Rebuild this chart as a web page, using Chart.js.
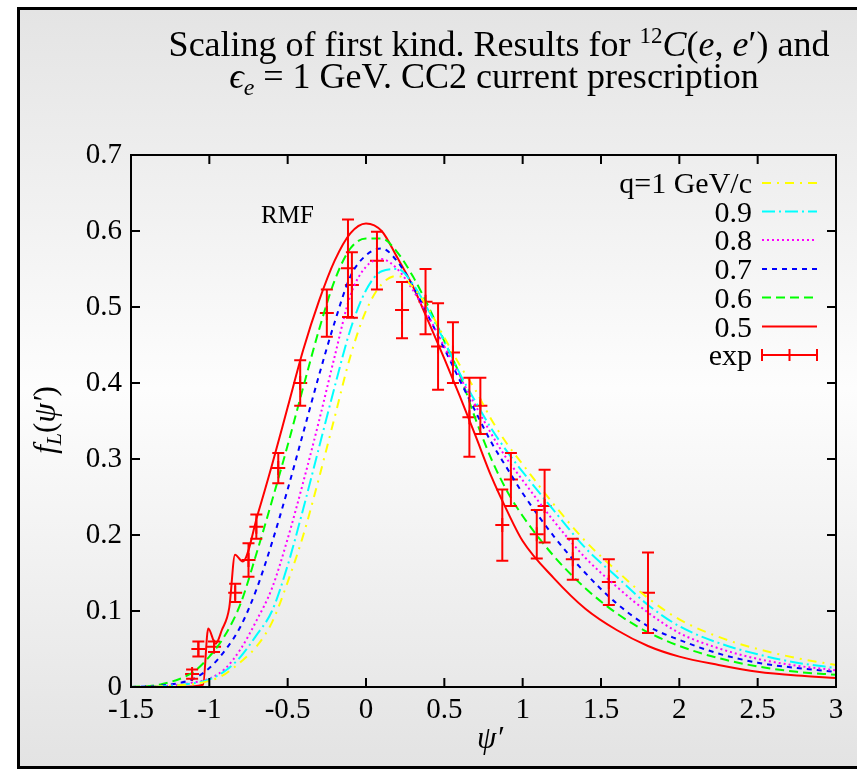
<!DOCTYPE html>
<html>
<head>
<meta charset="utf-8">
<script src="https://cdn.jsdelivr.net/npm/chart.js@4.4.1/dist/chart.umd.min.js"></script>
<style>
  html, body { margin: 0; padding: 0; background: #fff; }
  #frame {
    position: absolute; left: 17px; top: 7px; width: 900px; height: 756px;
    border: 3px solid #000;
    background: linear-gradient(to bottom, #e4e4e4 0%, #fdfdfd 50%, #e3e3e3 100%);
  }
  #wrap { position: absolute; left: 0; top: 0; width: 857px; height: 769px; }
</style>
</head>
<body>
<div id="frame"></div>
<div id="wrap"><canvas id="chart" width="857" height="769"></canvas></div>
<script>
// psi' grid shared by the q = 0.6 ... 1.0 GeV/c curves
const psi = [-1.5, -1.3, -1.1, -1.0, -0.9, -0.8, -0.7, -0.6, -0.5, -0.4, -0.3, -0.2, -0.1, 0, 0.1, 0.2, 0.3,
             0.4, 0.5, 0.6, 0.7, 0.8, 0.9, 1.0, 1.2, 1.4, 1.6, 1.8, 2.0, 2.25, 2.5, 2.75, 3.0];

const q10 = [0, 0.001, 0.004, 0.008, 0.017, 0.033, 0.053, 0.085, 0.138, 0.2, 0.275, 0.355, 0.435, 0.495, 0.53, 0.541, 0.526,
             0.497, 0.46, 0.423, 0.39, 0.352, 0.32, 0.293, 0.24, 0.192, 0.153, 0.117, 0.089, 0.066, 0.05, 0.038, 0.029];
const q09 = [0, 0.001, 0.005, 0.01, 0.021, 0.04, 0.068, 0.1, 0.16, 0.235, 0.315, 0.395, 0.47, 0.522, 0.547, 0.55, 0.53,
             0.495, 0.455, 0.412, 0.375, 0.34, 0.31, 0.283, 0.232, 0.183, 0.145, 0.108, 0.08, 0.058, 0.043, 0.032, 0.025];
const q08 = [0, 0.001, 0.006, 0.011, 0.024, 0.05, 0.087, 0.13, 0.195, 0.27, 0.35, 0.435, 0.515, 0.553, 0.563, 0.55, 0.522,
             0.487, 0.448, 0.408, 0.37, 0.333, 0.3, 0.272, 0.218, 0.17, 0.132, 0.098, 0.071, 0.051, 0.037, 0.028, 0.022];
const q07 = [0, 0.002, 0.011, 0.025, 0.048, 0.08, 0.128, 0.19, 0.26, 0.335, 0.41, 0.48, 0.54, 0.568, 0.577, 0.56, 0.527,
             0.487, 0.445, 0.403, 0.362, 0.322, 0.288, 0.255, 0.198, 0.15, 0.11, 0.08, 0.062, 0.044, 0.032, 0.025, 0.02];
const q06 = [0, 0.004, 0.02, 0.04, 0.068, 0.11, 0.175, 0.245, 0.318, 0.395, 0.47, 0.535, 0.577, 0.59, 0.59, 0.572, 0.54,
             0.5, 0.455, 0.41, 0.352, 0.3, 0.258, 0.225, 0.172, 0.13, 0.097, 0.072, 0.054, 0.038, 0.027, 0.02, 0.016];

// q = 0.5 GeV/c has its own sampling (jagged low-psi edge)
const psi05 = [-1.5, -1.2, -1.04, -1.007, -0.96, -0.92, -0.873, -0.836, -0.787, -0.69, -0.6, -0.5, -0.4, -0.3, -0.2, -0.1, 0,
               0.1, 0.2, 0.3, 0.4, 0.5, 0.6, 0.7, 0.8, 0.9, 1.0, 1.2, 1.4, 1.6, 1.8, 2.0, 2.25, 2.5, 2.75, 3.0];
const q05 = [0, 0, 0.003, 0.077, 0.057, 0.075, 0.104, 0.174, 0.165, 0.228, 0.292, 0.368, 0.444, 0.508, 0.561, 0.597, 0.61,
             0.6, 0.565, 0.527, 0.48, 0.432, 0.382, 0.33, 0.277, 0.232, 0.192, 0.143, 0.103, 0.075, 0.054, 0.04, 0.029, 0.02, 0.015, 0.012];

// experimental points
const expPsi = [-1.11, -1.07, -0.97, -0.835, -0.75, -0.70, -0.56, -0.42, -0.25, -0.115, -0.09, 0.07, 0.23, 0.38, 0.46,
                0.555, 0.66, 0.73, 0.87, 0.925, 1.09, 1.14, 1.32, 1.55, 1.80];
const expF = [0.017, 0.05, 0.053, 0.124, 0.167, 0.211, 0.288, 0.40, 0.492, 0.551, 0.529, 0.561, 0.496, 0.507, 0.448,
              0.44, 0.355, 0.37, 0.213, 0.273, 0.201, 0.238, 0.168, 0.138, 0.124];
const expErr = [0.006, 0.01, 0.007, 0.012, 0.022, 0.016, 0.02, 0.03, 0.031, 0.064, 0.043, 0.038, 0.037, 0.043, 0.057,
                0.04, 0.052, 0.037, 0.047, 0.035, 0.032, 0.048, 0.027, 0.03, 0.053];

const legendLabels = ['q=1 GeV/c', '0.9', '0.8', '0.7', '0.6', '0.5', 'exp'];

const serif = '"Liberation Serif", "DejaVu Serif", serif';
const R = s => s + 'px ' + serif;
const I = s => 'italic ' + s + 'px ' + serif;
const red = '#ff0000';

const pts = (xs, ys) => xs.map((v, i) => ({ x: v, y: ys[i] }));

function curve(label, xs, ys, color, dash) {
    return {
        label: label,
        data: pts(xs, ys),
        borderColor: color,
        borderWidth: 2,
        borderDash: dash,
        pointRadius: 0,
        fill: false,
        cubicInterpolationMode: 'monotone'
    };
}

// draw a list of text runs (mixed roman / italic / sub / sup)
function drawRuns(ctx, runs, x, y, align) {
    let w = 0;
    runs.forEach(r => { ctx.font = r.font; w += ctx.measureText(r.text).width; });
    let cx = align === 'center' ? x - w / 2 : align === 'right' ? x - w : x;
    ctx.textAlign = 'left';
    ctx.textBaseline = 'alphabetic';
    runs.forEach(r => {
        ctx.font = r.font;
        ctx.fillText(r.text, cx, y + (r.dy || 0));
        cx += ctx.measureText(r.text).width;
    });
}

// box round the plot with inward ticks on all four sides
const frame = {
    id: 'frame',
    afterDraw(chart) {
        const { ctx, chartArea: a, scales: { x, y } } = chart;
        ctx.save();
        ctx.strokeStyle = '#000';
        ctx.lineWidth = 2;
        ctx.strokeRect(a.left, a.top, a.right - a.left, a.bottom - a.top);
        ctx.beginPath();
        const tl = 9;
        x.ticks.forEach(t => {
            const px = x.getPixelForValue(t.value);
            ctx.moveTo(px, a.bottom); ctx.lineTo(px, a.bottom - tl);
            ctx.moveTo(px, a.top); ctx.lineTo(px, a.top + tl);
        });
        y.ticks.forEach(t => {
            const py = y.getPixelForValue(t.value);
            ctx.moveTo(a.left, py); ctx.lineTo(a.left + tl, py);
            ctx.moveTo(a.right, py); ctx.lineTo(a.right - tl, py);
        });
        ctx.stroke();
        ctx.restore();
    }
};

const errorBars = {
    id: 'errorBars',
    afterDatasetsDraw(chart) {
        const { ctx, scales: { x, y } } = chart;
        ctx.save();
        ctx.strokeStyle = red;
        ctx.lineWidth = 2;
        ctx.beginPath();
        expPsi.forEach((p, i) => {
            const px = x.getPixelForValue(p);
            const lo = y.getPixelForValue(expF[i] - expErr[i]);
            const hi = y.getPixelForValue(expF[i] + expErr[i]);
            ctx.moveTo(px, lo); ctx.lineTo(px, hi);
            ctx.moveTo(px - 6, lo); ctx.lineTo(px + 6, lo);
            ctx.moveTo(px - 6, hi); ctx.lineTo(px + 6, hi);
        });
        ctx.stroke();
        ctx.restore();
    }
};

const texts = {
    id: 'texts',
    afterDraw(chart) {
        const { ctx, scales: { x, y } } = chart;
        ctx.save();
        ctx.fillStyle = '#000';

        // title
        drawRuns(ctx, [
            { text: 'Scaling of first kind. Results for ', font: R(36) },
            { text: '12', font: R(23), dy: -13 },
            { text: 'C', font: I(36) },
            { text: '(', font: R(36) },
            { text: 'e', font: I(36) },
            { text: ', ', font: R(36) },
            { text: 'e', font: I(36) },
            { text: '\u2032', font: R(36) },
            { text: ') and', font: R(36) }
        ], 499, 56, 'center');
        drawRuns(ctx, [
            { text: '\u03f5', font: I(36) },
            { text: 'e', font: I(24), dy: 7 },
            { text: ' = 1 GeV. CC2 current prescription', font: R(36) }
        ], 494, 88, 'center');

        // axis titles
        drawRuns(ctx, [{ text: '\u03c8\u2032', font: I(31) }], 490, 748, 'center');
        ctx.save();
        ctx.translate(55, 420);
        ctx.rotate(-Math.PI / 2);
        drawRuns(ctx, [
            { text: 'f', font: I(31) },
            { text: 'L', font: I(22), dy: 6 },
            { text: '(', font: R(31) },
            { text: '\u03c8\u2032', font: I(31) },
            { text: ')', font: R(31) }
        ], 0, 0, 'center');
        ctx.restore();

        // RMF label
        drawRuns(ctx, [{ text: 'RMF', font: R(25) }], x.getPixelForValue(-0.67), y.getPixelForValue(0.61), 'left');

        // key, gnuplot style: text right-aligned, sample on the right
        const textRight = 752, s0 = 762, s1 = 817;
        const rows = [183, 211.5, 240, 269, 297.5, 326.5, 355];
        const ds = chart.data.datasets;
        legendLabels.forEach((lab, i) => {
            const ry = rows[i];
            drawRuns(ctx, [{ text: lab, font: R(30) }], textRight, ry + 10, 'right');
            const d = ds[i];
            ctx.save();
            ctx.strokeStyle = d.borderColor;
            ctx.lineWidth = 2;
            ctx.beginPath();
            if (d.showLine === false) {
                ctx.moveTo(s0, ry); ctx.lineTo(s1, ry);
                ctx.moveTo(s0, ry - 6); ctx.lineTo(s0, ry + 6);
                ctx.moveTo(s1, ry - 6); ctx.lineTo(s1, ry + 6);
                ctx.moveTo((s0 + s1) / 2, ry - 6); ctx.lineTo((s0 + s1) / 2, ry + 6);
            } else {
                ctx.setLineDash(d.borderDash || []);
                ctx.moveTo(s0, ry); ctx.lineTo(s1, ry);
            }
            ctx.stroke();
            ctx.restore();
        });
        ctx.restore();
    }
};

const fmt = v => String(Math.round(v * 10) / 10);

new Chart(document.getElementById('chart'), {
    type: 'line',
    data: {
        datasets: [
            curve('q=1 GeV/c', psi, q10, '#ffff00', [9, 6, 2, 6]),
            curve('0.9', psi, q09, '#00ffff', [13, 4, 2, 4]),
            curve('0.8', psi, q08, '#ff00ff', [2, 3]),
            curve('0.7', psi, q07, '#0000ff', [5, 5]),
            curve('0.6', psi, q06, '#00ff00', [9, 5]),
            curve('0.5', psi05, q05, red, []),
            {
                label: 'exp',
                data: pts(expPsi, expF),
                showLine: false,
                borderColor: red,
                backgroundColor: red,
                pointStyle: 'cross',
                pointRadius: 7,
                pointBorderWidth: 2
            }
        ]
    },
    options: {
        responsive: false,
        animation: false,
        layout: { padding: { top: 155, right: 21, left: 0, bottom: 0 } },
        plugins: {
            legend: { display: false },
            tooltip: { enabled: false }
        },
        scales: {
            x: {
                type: 'linear',
                min: -1.5,
                max: 3,
                ticks: {
                    stepSize: 0.5,
                    autoSkip: false,
                    maxRotation: 0,
                    padding: 6,
                    color: '#000',
                    font: { family: serif, size: 29 },
                    callback: fmt
                },
                grid: { display: false, drawTicks: false },
                border: { display: false },
                afterFit: s => { s.height = 82; }
            },
            y: {
                type: 'linear',
                min: 0,
                max: 0.7,
                ticks: {
                    stepSize: 0.1,
                    padding: 9,
                    color: '#000',
                    font: { family: serif, size: 29 },
                    callback: fmt
                },
                grid: { display: false, drawTicks: false },
                border: { display: false },
                afterFit: s => { s.width = 131; }
            }
        }
    },
    plugins: [frame, errorBars, texts]
});
</script>
</body>
</html>
